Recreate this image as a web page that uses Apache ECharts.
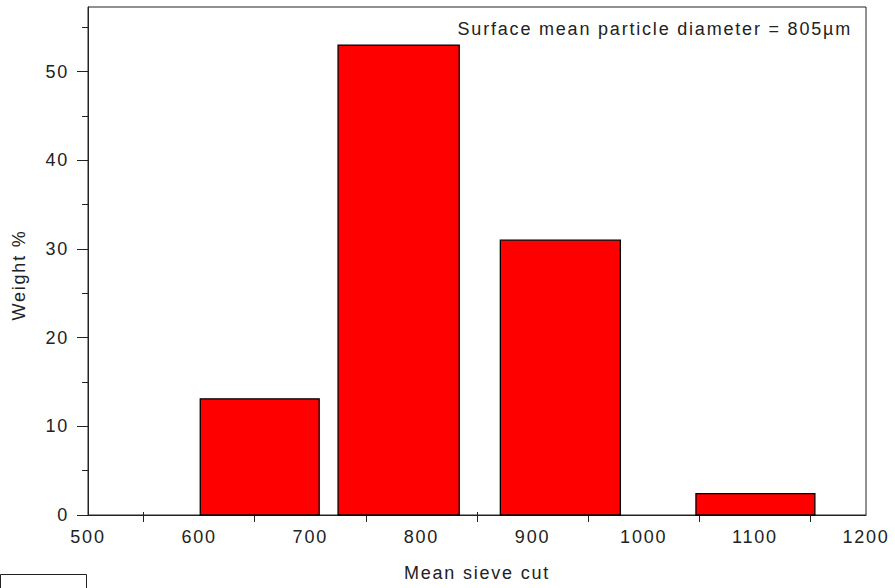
<!DOCTYPE html>
<html>
<head>
<meta charset="utf-8">
<script src="https://cdn.jsdelivr.net/npm/echarts@6/dist/echarts.min.js"></script>
<style>
  html, body { margin: 0; padding: 0; background: #fff; }
  #chart { width: 895px; height: 588px; }
  #chart svg text { letter-spacing: 1.8px; }
</style>
</head>
<body>
<div id="chart"></div>
<script>
// ---- data ----
const binStart = [601, 725, 871, 1047];      // left edge of each sieve-cut bar
const binEnd = [708, 834, 979, 1154];        // right edge of each sieve-cut bar
const weightPct = [13.1, 53.0, 31.0, 2.4];   // Weight %
const xTickValues = [550, 650, 750, 850, 950, 1050, 1150];
const yMajorTicks = [0, 10, 20, 30, 40, 50];
const yMinorTicks = [5, 15, 25, 35, 45, 55];
const annotation = 'Surface mean particle diameter = 805\u00b5m';
const xName = 'Mean sieve cut';
const yName = 'Weight %';

const barData = binStart.map((s, i) => [s, binEnd[i], weightPct[i]]);

const FONT = 'Liberation Sans, Arial, sans-serif';
const FS = 18;
const INK = '#222';

const chart = echarts.init(document.getElementById('chart'), null, { renderer: 'svg' });

chart.setOption({
  animation: false,
  backgroundColor: '#fff',
  grid: {
    left: 88, right: 29, top: 7, bottom: 73,
    show: true, borderColor: INK, borderWidth: 1, backgroundColor: 'transparent'
  },
  xAxis: [
    {
      type: 'value', min: 500, max: 1200, interval: 100,
      position: 'bottom',
      name: xName, nameLocation: 'middle', nameGap: 49,
      nameTextStyle: { fontFamily: FONT, fontSize: FS, color: INK },
      axisLine: { show: true, lineStyle: { color: INK, width: 1 } },
      axisTick: { show: true, customValues: xTickValues, length: 7, lineStyle: { color: INK } },
      axisLabel: { fontFamily: FONT, fontSize: FS, color: INK, margin: 13, formatter: v => String(v) },
      splitLine: { show: false }
    },
    {
      type: 'value', min: 500, max: 1200, interval: 100,
      position: 'bottom',
      axisLine: { show: false },
      axisTick: { show: true, inside: true, customValues: xTickValues, length: 3, lineStyle: { color: INK } },
      axisLabel: { show: false },
      splitLine: { show: false }
    }
  ],
  yAxis: [
    {
      type: 'value', min: 0, max: 57.3,
      position: 'left',
      axisLine: { show: true, lineStyle: { color: INK, width: 1 } },
      axisTick: { show: true, customValues: yMajorTicks, length: 11, lineStyle: { color: INK } },
      axisLabel: { customValues: yMajorTicks, fontFamily: FONT, fontSize: FS, color: INK, margin: 19, formatter: v => String(v) },
      splitLine: { show: false }
    },
    {
      type: 'value', min: 0, max: 57.3,
      position: 'left',
      axisLine: { show: false },
      axisTick: { show: true, customValues: yMinorTicks, length: 6, lineStyle: { color: INK } },
      axisLabel: { show: false },
      splitLine: { show: false }
    }
  ],
  graphic: [
    {
      type: 'text', x: 852, y: 29,
      style: { text: annotation, fontFamily: FONT, fontSize: FS, fill: INK, align: 'right', verticalAlign: 'middle' }
    },
    {
      type: 'text', x: 19, y: 275, rotation: Math.PI / 2,
      style: { text: yName, fontFamily: FONT, fontSize: FS, fill: INK, align: 'center', verticalAlign: 'middle' }
    },
    {
      type: 'rect', shape: { x: 0.5, y: 574.5, width: 86, height: 30 },
      style: { fill: '#fff', stroke: INK, lineWidth: 1 }
    }
  ],
  series: [
    {
      type: 'custom',
      xAxisIndex: 0, yAxisIndex: 0,
      data: barData,
      encode: { x: [0, 1], y: 2 },
      renderItem: function (params, api) {
        const p0 = api.coord([api.value(0), 0]);
        const p1 = api.coord([api.value(1), api.value(2)]);
        return {
          type: 'rect',
          shape: { x: p0[0], y: p1[1], width: p1[0] - p0[0], height: p0[1] - p1[1] },
          style: { fill: '#ff0000', stroke: '#000', lineWidth: 1.3 }
        };
      }
    }
  ]
});
</script>
</body>
</html>
